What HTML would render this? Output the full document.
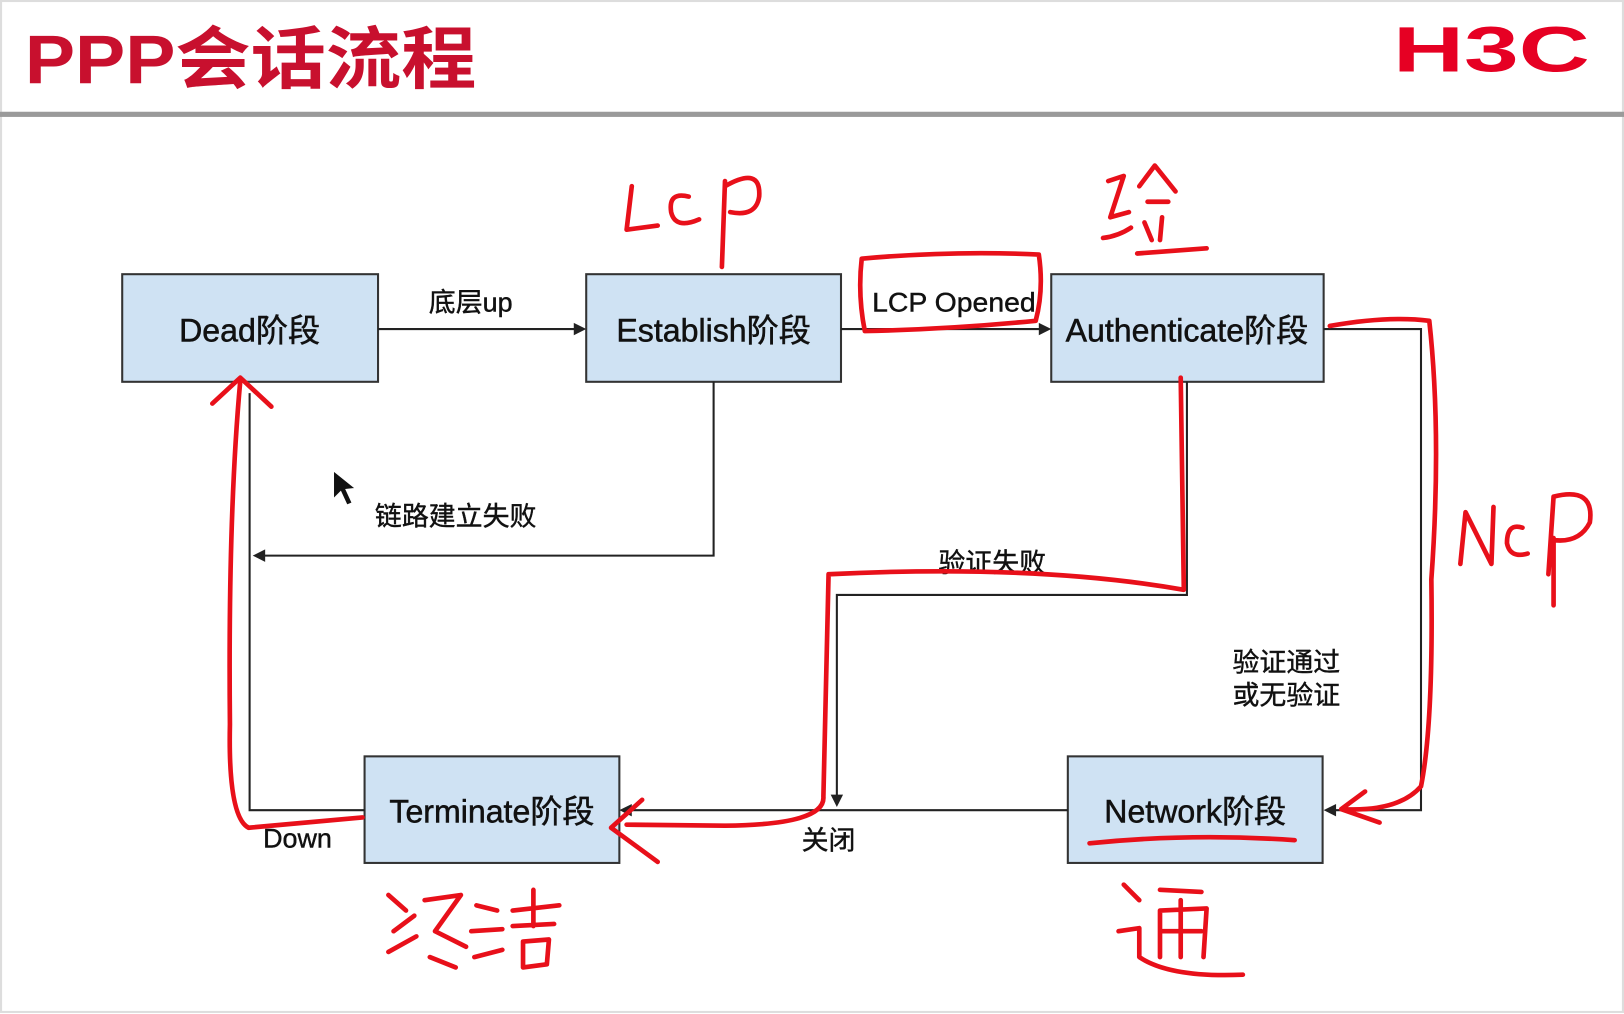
<!DOCTYPE html>
<html><head><meta charset="utf-8"><style>
html,body{margin:0;padding:0;background:#fff;}
svg{display:block;}
</style></head><body>
<svg width="1624" height="1014" viewBox="0 0 1568 980" preserveAspectRatio="none" xmlns="http://www.w3.org/2000/svg" font-family="'Liberation Sans','Noto Sans CJK SC',sans-serif">
<rect x="0" y="0" width="1568" height="980" fill="#fff"/>
<rect x="1" y="1" width="1566" height="977" fill="none" stroke="#ddd" stroke-width="2"/>
<text x="24" y="80" font-size="66" font-weight="bold" fill="#c8102e" textLength="436" lengthAdjust="spacingAndGlyphs">PPP会话流程</text>
<text x="1345" y="69" font-size="62" font-weight="bold" fill="#e60023" textLength="190" lengthAdjust="spacingAndGlyphs">H3C</text>
<rect x="0" y="108" width="1568" height="5" fill="#9a9a9a"/>
<g stroke="#333" stroke-width="2" fill="#cfe2f3">
<rect x="118" y="265" width="247" height="104"/>
<rect x="566" y="265" width="246" height="104"/>
<rect x="1015" y="265" width="263" height="104"/>
<rect x="352" y="731" width="246" height="103"/>
<rect x="1031" y="731" width="246" height="103"/>
</g>
<g font-size="31" fill="#111" stroke="#111" stroke-width="0.5" text-anchor="middle">
<text x="241" y="330">Dead阶段</text>
<text x="689" y="330">Establish阶段</text>
<text x="1146" y="330">Authenticate阶段</text>
<text x="475" y="795">Terminate阶段</text>
<text x="1154" y="795">Network阶段</text>
</g>
<g stroke="#222" stroke-width="2" fill="none">
<line x1="365" y1="318" x2="558" y2="318"/>
<line x1="812" y1="318" x2="1006" y2="318"/>
<polyline points="689,369 689,537 252,537"/>
<polyline points="352,783 241,783 241,380"/>
<polyline points="1278,318 1372,318 1372,783 1287,783"/>
<polyline points="1146,369 1146,575 808,575 808,772"/>
<line x1="1031" y1="783" x2="606" y2="783"/>
</g>
<g fill="#222">
<polygon points="566,318 554,312 554,324"/>
<polygon points="1015,318 1003,312 1003,324"/>
<polygon points="244,537 256,531 256,543"/>
<polygon points="1278,783 1290,777 1290,789"/>
<polygon points="808,780 802,768 814,768"/>
<polygon points="598,783 610,777 610,789"/>
</g>
<g font-size="26" fill="#111" stroke="#111" stroke-width="0.4">
<text x="414" y="301">底层up</text>
<text x="842" y="301" textLength="158" lengthAdjust="spacingAndGlyphs">LCP Opened</text>
<text x="362" y="508">链路建立失败</text>
<text x="906" y="553">验证失败</text>
<text x="1190" y="649">验证通过</text>
<text x="1190" y="681">或无验证</text>
<text x="254" y="819">Down</text>
<text x="774" y="821">关闭</text>
</g>
<polygon points="322,455 322,482 329,475 335,488 340,486 334,473 343,472" fill="#111" stroke="#fff" stroke-width="1"/>
<g stroke="#e8101a" stroke-width="4.5" fill="none" stroke-linecap="round" stroke-linejoin="round">
<path d="M610,180 L605,222 L635,218"/>
<path d="M665,190 Q645,185 648,205 Q652,222 675,212"/>
<path d="M700,175 L697,258 M700,180 Q735,160 733,190 Q730,210 705,205"/>
<path d="M832,250 Q920,242 1003,246 Q1008,280 1000,310 Q920,318 835,320 Q828,285 832,250"/>
<path d="M1070,175 L1085,170 L1072,210 L1090,205 M1065,230 Q1080,228 1092,220 M1100,180 L1115,160 L1135,185 M1108,195 L1128,195 M1105,215 L1112,232 M1122,210 L1120,232 M1098,245 L1165,240"/>
<path d="M1284,315 Q1340,305 1380,310 Q1392,420 1382,560 Q1384,700 1372,760 Q1350,785 1295,782 M1318,765 L1295,782 L1332,795"/>
<path d="M1410,545 L1415,495 L1440,545 L1442,490 M1470,510 Q1455,505 1455,525 Q1458,540 1475,535 M1495,555 L1500,480 Q1540,470 1535,505 Q1525,525 1500,522 M1500,520 L1500,585"/>
<path d="M1140,365 L1143,570 Q1000,545 800,555 L795,770 Q797,797 700,798 L605,797 M620,773 L590,800 L635,833"/>
<path d="M350,790 L240,800 Q220,790 222,700 Q220,500 232,368 M205,390 L232,365 L262,393"/>
<path d="M1052,815 Q1150,805 1250,812"/>
<path d="M375,865 L392,880 M380,900 L400,885 M375,920 L402,905 M410,870 L445,865 L420,900 L450,915 M415,925 L440,935 M460,875 L480,880 M455,900 L485,898 M458,925 L485,918 M495,880 L540,875 M515,860 L515,895 M495,895 L535,893 M505,910 L530,908 L528,932 L505,935 Z"/>
<path d="M1085,855 L1100,870 M1080,900 L1100,897 L1100,925 Q1130,945 1200,942 M1120,860 L1160,862 M1120,880 L1165,878 L1162,925 M1120,880 L1120,925 M1120,900 L1160,900 M1140,870 L1140,925"/>
</g>
</svg>
</body></html>
